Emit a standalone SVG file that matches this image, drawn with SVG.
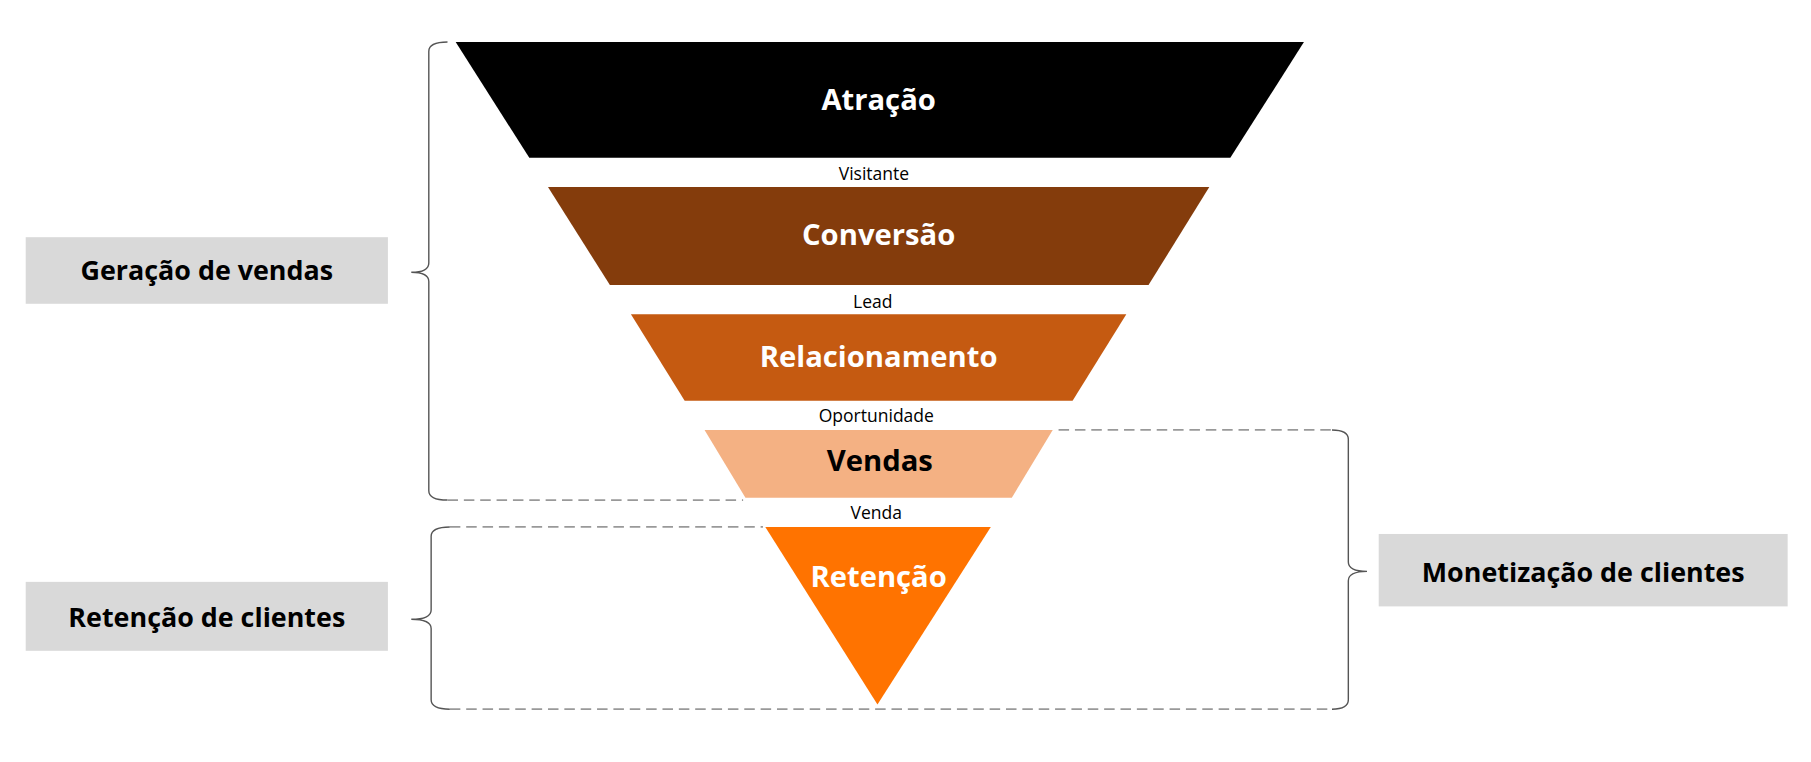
<svg xmlns="http://www.w3.org/2000/svg" width="1811" height="762" viewBox="0 0 1811 762">
<style>
.t{font-family:"Open Sans","Liberation Sans",sans-serif;font-weight:bold;text-anchor:middle;dominant-baseline:central}
.s{font-family:"Open Sans","Liberation Sans",sans-serif;font-size:15px;text-anchor:middle;dominant-baseline:central;fill:#000}
.b{fill:none;stroke:#555;stroke-width:1.2}
.d{fill:none;stroke:#999;stroke-width:1.5;stroke-dasharray:9,5}
.box{fill:#D9D9D9}
</style>
<rect width="1811" height="762" fill="#fff"/>
<g transform="scale(1.1684)">
<g id="connectors">
<path class="b" d="M383,36 Q367,36 367,44 L367,225 Q367,233 352,233 Q367,233 367,241 L367,420 Q367,428 383,428"/>
<path class="d" d="M383,428 L636,428"/>
<path class="b" d="M385,451 Q369,451 369,459 L369,522 Q369,530 352,530 Q369,530 369,538 L369,599 Q369,607 385,607"/>
<path class="d" d="M385,451 L653,451 M385,607 L1140,607"/>
<path class="b" d="M1140,368 Q1154,368 1154,376 L1154,481 Q1154,489 1170,489 Q1154,489 1154,497 L1154,599 Q1154,607 1140,607"/>
<path class="d" d="M906,368 L1140,368"/>
</g>
<g id="atracao"><polygon points="390,36 1116,36 1053,135 453,135" fill="#000"/><text class="t" x="752" y="85" font-size="25" fill="#fff">Atração</text></g>
<g id="visitante"><text class="s" x="748" y="148">Visitante</text></g>
<g id="conversao"><polygon points="469,160 1035,160 983,244 522,244" fill="#843C0C"/><text class="t" x="752" y="200" font-size="25" fill="#fff">Conversão</text></g>
<g id="lead"><text class="s" x="747" y="258">Lead</text></g>
<g id="relacionamento"><polygon points="540,269 964,269 918,343 586,343" fill="#C55A11"/><text class="t" x="752" y="305" font-size="25" fill="#fff">Relacionamento</text></g>
<g id="oportunidade"><text class="s" x="750" y="355">Oportunidade</text></g>
<g id="vendas"><polygon points="603,368 901,368 866,426 638,426" fill="#F4B183"/><text class="t" x="753" y="394" font-size="25" fill="#000">Vendas</text></g>
<g id="venda"><text class="s" x="750" y="438">Venda</text></g>
<g id="retencao"><polygon points="655,451 848,451 751,603" fill="#FF7300"/><text class="t" x="752" y="493" font-size="25" fill="#fff">Retenção</text></g>
<g id="geracao-box"><rect class="box" x="22" y="203" width="310" height="57"/><text class="t" x="177" y="231" font-size="23" fill="#000">Geração de vendas</text></g>
<g id="retencao-box"><rect class="box" x="22" y="498" width="310" height="59"/><text class="t" x="177" y="528" font-size="23" fill="#000">Retenção de clientes</text></g>
<g id="monetizacao-box"><rect class="box" x="1180" y="457" width="350" height="62"/><text class="t" x="1355" y="489" font-size="23" fill="#000">Monetização de clientes</text></g>
</g>
</svg>
